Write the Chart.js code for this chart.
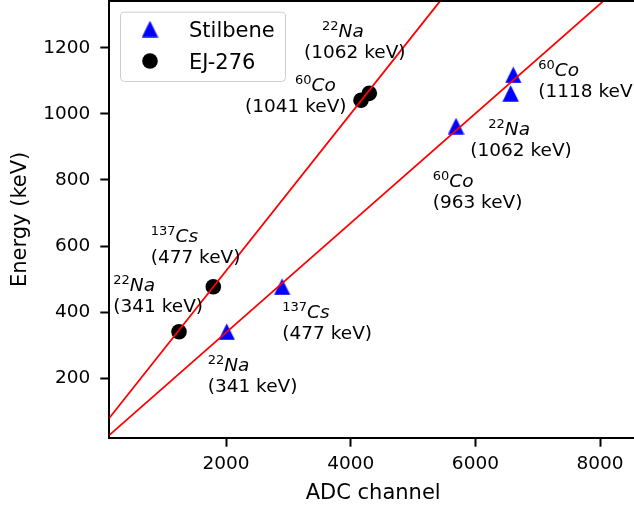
<!DOCTYPE html>
<html><head><meta charset="utf-8">
<script src="https://cdn.jsdelivr.net/npm/chart.js@4/dist/chart.umd.min.js"></script>
<style>
html,body{margin:0;padding:0;overflow:hidden;background:#fff;width:634px;height:513px}
#wrap{width:640px;height:513px}
canvas{display:block}
</style></head><body>
<div id="wrap"><canvas id="c" width="640" height="513"></canvas></div>
<script>
// ---- data ----
const stilbeneChannel = [2011, 2900, 5689, 6566, 6608];
const stilbeneEnergy  = [341, 477, 963, 1062, 1118];
const ej276Channel    = [1246, 1796, 4165, 4298];
const ej276Energy     = [341, 477, 1041, 1062];
// calibration fit lines, read where they meet the plot edges
const stilbeneFitChannel = [128, 8052];
const stilbeneFitEnergy  = [28, 1341];
const ej276FitChannel    = [128, 5433];
const ej276FitEnergy     = [80, 1341];
// ticks
const xTicks = [2000, 4000, 6000, 8000];
const yTicks = [200, 400, 600, 800, 1000, 1200];
// annotation texts
const labelMass    = ['22','60','137','22','22','137','60','22','60'];
const labelElement = ['Na','Co','Cs','Na','Na','Cs','Co','Na','Co'];
const labelEnergy  = [1062, 1041, 477, 341, 341, 477, 963, 1062, 1118];
// annotation placement (data coords of first-line baseline start, second-line indent in px)
const labelX      = [3540, 3107, 792, 192, 1706, 2903, 5315, 6207, 7009];
const labelY      = [1233, 1070, 612, 463, 222, 381, 780, 936, 1115];
const labelIndent = [-18, -50, 0, 0, 0, 0, 0, -18, 0];

const FONT = '"DejaVu Sans", sans-serif';

// matplotlib-like upward triangle marker
function makeTriangle(size, color){
  const c = document.createElement('canvas');
  c.width = size; c.height = size;
  const g = c.getContext('2d');
  g.fillStyle = color;
  g.beginPath();
  g.moveTo(size/2, 0.3);
  g.lineTo(size-0.3, size-0.3);
  g.lineTo(0.3, size-0.3);
  g.closePath();
  g.fill();
  return c;
}
const triMarker = makeTriangle(17, '#0000ff');

function pts(xs, ys){ return xs.map((x,i)=>({x:x, y:ys[i]})); }

const annotPlugin = {
  id:'annot',
  afterDatasetsDraw(chart){
    const ctx = chart.ctx, xs = chart.scales.x, ys = chart.scales.y;
    ctx.save();
    ctx.fillStyle = '#000';
    ctx.textBaseline = 'alphabetic';
    ctx.textAlign = 'left';
    for (let i=0;i<labelElement.length;i++){
      const px = xs.getPixelForValue(labelX[i]);
      const py = ys.getPixelForValue(labelY[i]);
      ctx.font = '13px ' + FONT;
      ctx.fillText(labelMass[i], px, py-7);
      const w = ctx.measureText(labelMass[i]).width;
      ctx.font = 'italic 18.5px ' + FONT;
      ctx.fillText(labelElement[i], px+w, py);
      ctx.font = '18.5px ' + FONT;
      ctx.fillText('(' + labelEnergy[i] + ' keV)', px + labelIndent[i], py + 21);
    }
    ctx.restore();
  }
};

const framePlugin = {
  id:'frame',
  afterDraw(chart){
    const ctx = chart.ctx, a = chart.chartArea;
    ctx.save();
    // top spine
    ctx.strokeStyle = '#000'; ctx.lineWidth = 2;
    ctx.beginPath(); ctx.moveTo(a.left-1, a.top); ctx.lineTo(a.right+1, a.top); ctx.stroke();
    // legend box
    const x0 = a.left + 10.7, y0 = a.top + 10.7, w = 165, h = 69.3;
    ctx.beginPath();
    ctx.roundRect(x0+0.5, y0+0.5, w, h, 4);
    ctx.fillStyle = 'rgba(255,255,255,0.8)'; ctx.fill();
    ctx.strokeStyle = '#cccccc'; ctx.lineWidth = 1; ctx.stroke();
    const entries = chart.data.datasets.filter(d => d.legendEntry);
    entries.forEach((d, i) => {
      const my = y0 + 17.3 + i*32;
      const mx = x0 + 30;
      if (d.pointStyle === 'circle'){
        ctx.beginPath(); ctx.arc(mx, my, d.pointRadius, 0, Math.PI*2);
        ctx.fillStyle = d.backgroundColor; ctx.fill();
      } else {
        ctx.drawImage(d.pointStyle, mx - d.pointStyle.width/2, my - d.pointStyle.height/2);
      }
      ctx.fillStyle = '#000';
      ctx.font = '21px ' + FONT;
      ctx.textBaseline = 'alphabetic';
      ctx.textAlign = 'left';
      ctx.fillText(d.label, x0 + 69, my + 7.6);
    });
    ctx.restore();
  }
};

new Chart(document.getElementById('c'), {
  type: 'scatter',
  data: {
    datasets: [
      { label:'Stilbene fit', data: pts(stilbeneFitChannel, stilbeneFitEnergy), showLine:true,
        borderColor:'#ff0000', borderWidth:1.8, pointRadius:0, fill:false },
      { label:'EJ-276 fit', data: pts(ej276FitChannel, ej276FitEnergy), showLine:true,
        borderColor:'#ff0000', borderWidth:1.8, pointRadius:0, fill:false },
      { label:'Stilbene', legendEntry:true, data: pts(stilbeneChannel, stilbeneEnergy),
        pointStyle: triMarker, pointRadius: 8.5, backgroundColor:'#0000ff', borderColor:'#0000ff' },
      { label:'EJ-276', legendEntry:true, data: pts(ej276Channel, ej276Energy),
        pointStyle:'circle', pointRadius: 7.8, backgroundColor:'#000000', borderColor:'#000000', borderWidth:0 }
    ]
  },
  options: {
    responsive:false, animation:false, devicePixelRatio:1,
    layout:{ autoPadding:false, padding:{ left:0, top:1, right:3, bottom:0 } },
    plugins:{ legend:{display:false}, tooltip:{enabled:false} },
    scales:{
      x:{
        type:'linear', min:128, max:8592,
        afterBuildTicks(s){ s.ticks = xTicks.map(v=>({value:v})); },
        afterFit(s){ s.height = 75.3; s.paddingLeft = 0; s.paddingRight = 0; },
        grid:{ display:true, drawOnChartArea:false, drawTicks:true, tickLength:9, tickWidth:2, tickColor:'#000' },
        border:{ display:true, color:'#000', width:2 },
        ticks:{ color:'#000', font:{ family:FONT, size:18.5 }, padding:6, maxRotation:0, autoSkip:false,
                callback:v=>String(v) },
        title:{ display:true, text:'ADC channel', color:'#000', font:{ family:FONT, size:21 }, padding:{ top:0, bottom:6.4 } }
      },
      y:{
        type:'linear', min:20.3, max:1341.3,
        afterBuildTicks(s){ s.ticks = yTicks.map(v=>({value:v})); },
        afterFit(s){ s.width = 109.3; s.paddingTop = 0; s.paddingBottom = 0; },
        grid:{ display:true, drawOnChartArea:false, drawTicks:true, tickLength:9, tickWidth:2, tickColor:'#000' },
        border:{ display:true, color:'#000', width:2 },
        ticks:{ color:'#000', font:{ family:FONT, size:18.5 }, padding:10, autoSkip:false,
                callback:v=>String(v) },
        title:{ display:true, text:'Energy (keV)', color:'#000', font:{ family:FONT, size:21 }, padding:{ top:8.4, bottom:0 } }
      }
    }
  },
  plugins:[annotPlugin, framePlugin]
});
</script>
</body></html>
